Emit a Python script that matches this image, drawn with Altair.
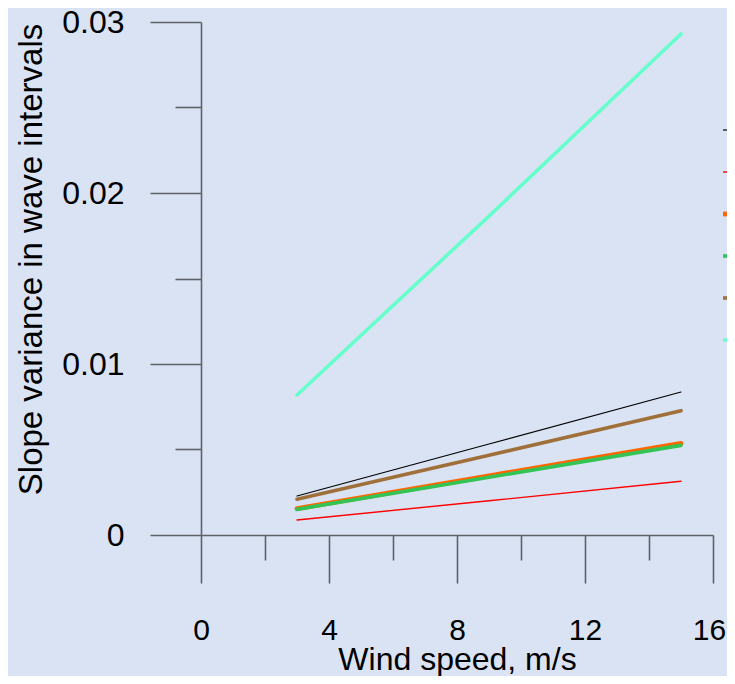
import altair as alt
import pandas as pd

# ---- data ----
wind = [3, 9, 15]
series_order = ["Series 1", "Series 2", "Series 3", "Series 4", "Series 5", "Series 6"]
colors = ["#000000", "#FF0000", "#FF6600", "#33C455", "#A0703A", "#66FFCC"]
widths = [1.2, 1.4, 4.8, 3.6, 3.6, 3.6]

s1 = [0.00228, 0.00532, 0.00836]   # black
s2 = [0.00088, 0.00200, 0.00314]   # red
s3 = [0.00154, 0.00346, 0.00536]   # orange
s4 = [0.00150, 0.00338, 0.00524]   # green
s5 = [0.00209, 0.00466, 0.00727]   # brown
s6 = [0.00819, 0.01865, 0.02930]   # aquamarine

values = {"Series 1": s1, "Series 2": s2, "Series 3": s3,
          "Series 4": s4, "Series 5": s5, "Series 6": s6}
draw_order = ["Series 6", "Series 1", "Series 2", "Series 5", "Series 3", "Series 4"]

x_ticks = [0, 2, 4, 6, 8, 10, 12, 14, 16]
y_ticks = [0, 0.005, 0.01, 0.015, 0.02, 0.025, 0.03]

rows = []
for i, name in enumerate(draw_order):
    sw = widths[series_order.index(name)]
    for w, v in zip(wind, values[name]):
        rows.append({"wind": w, "var": v, "series": name, "k": i, "sw": sw})
df = pd.DataFrame(rows)

axis_col = "#5E6269"
font = "Liberation Sans"

sw_expr = "datum && indexof(" + str(series_order) + ", datum.value) >= 0 ? " + \
    str(widths) + "[indexof(" + str(series_order) + ", datum.value)] : 1.5"

leg = alt.Legend(orient="none", legendX=521, legendY=92, symbolType="stroke",
                 symbolSize=900, labelFontSize=32, labelFont=font, rowPadding=10,
                 title=None, padding=0,
                 symbolStrokeWidth=alt.ExprRef(expr=sw_expr))

chart = alt.Chart(df).mark_line(strokeCap="round").encode(
    x=alt.X("wind:Q",
            scale=alt.Scale(domain=[0, 16], nice=False),
            axis=alt.Axis(values=x_ticks, grid=False, labelFlush=False,
                          tickSize={"condition": {"test": "datum.value % 4 === 0", "value": 48}, "value": 25},
                          labelOffset={"condition": {"test": "datum.value === 16", "value": -4}, "value": 0},
                          labelExpr="datum.value % 4 === 0 ? datum.label : ''",
                          labelFont=font, labelFontSize=30, labelColor="#000000",
                          labelPadding=32, labelBaseline="top",
                          domainColor=axis_col, domainWidth=1.6,
                          tickColor=axis_col, tickWidth=1.6,
                          title="Wind speed, m/s", titleFont=font, titleFontSize=32,
                          titleFontWeight="normal", titleColor="#000000",
                          titleY=134, titleBaseline="alphabetic")),
    y=alt.Y("var:Q",
            scale=alt.Scale(domain=[0, 0.03], nice=False),
            axis=alt.Axis(values=y_ticks, grid=False, labelFlush=False,
                          tickSize={"condition": {"test": "abs(datum.value*100 - round(datum.value*100)) < 1e-6", "value": 51}, "value": 26},
                          labelExpr="abs(datum.value*100 - round(datum.value*100)) < 1e-6 ? (datum.value == 0 ? '0' : format(datum.value, '.2f')) : ''",
                          labelFont=font, labelFontSize=32, labelColor="#000000",
                          labelPadding=26,
                          domainColor=axis_col, domainWidth=1.6,
                          tickColor=axis_col, tickWidth=1.6,
                          title="Slope variance in wave intervals", titleFont=font,
                          titleFontSize=33, titleFontWeight="normal", titleColor="#000000",
                          titleAngle=-90, titleX=-160, titleY=237,
                          titleBaseline="alphabetic", titleAlign="center")),
    color=alt.Color("series:N", scale=alt.Scale(domain=series_order, range=colors), legend=leg),
    strokeWidth=alt.StrokeWidth("sw:Q", scale=None),
    detail="k:O",
    order="wind:Q",
).properties(
    width=512, height=513,
    autosize=alt.AutoSizeParams(type="none"),
    padding={"left": 193, "top": 14, "right": 14, "bottom": 141},
    background="#DAE3F3",
).configure_view(stroke=None)

chart.save("out.html", embed_options={"renderer": "svg", "actions": False})
